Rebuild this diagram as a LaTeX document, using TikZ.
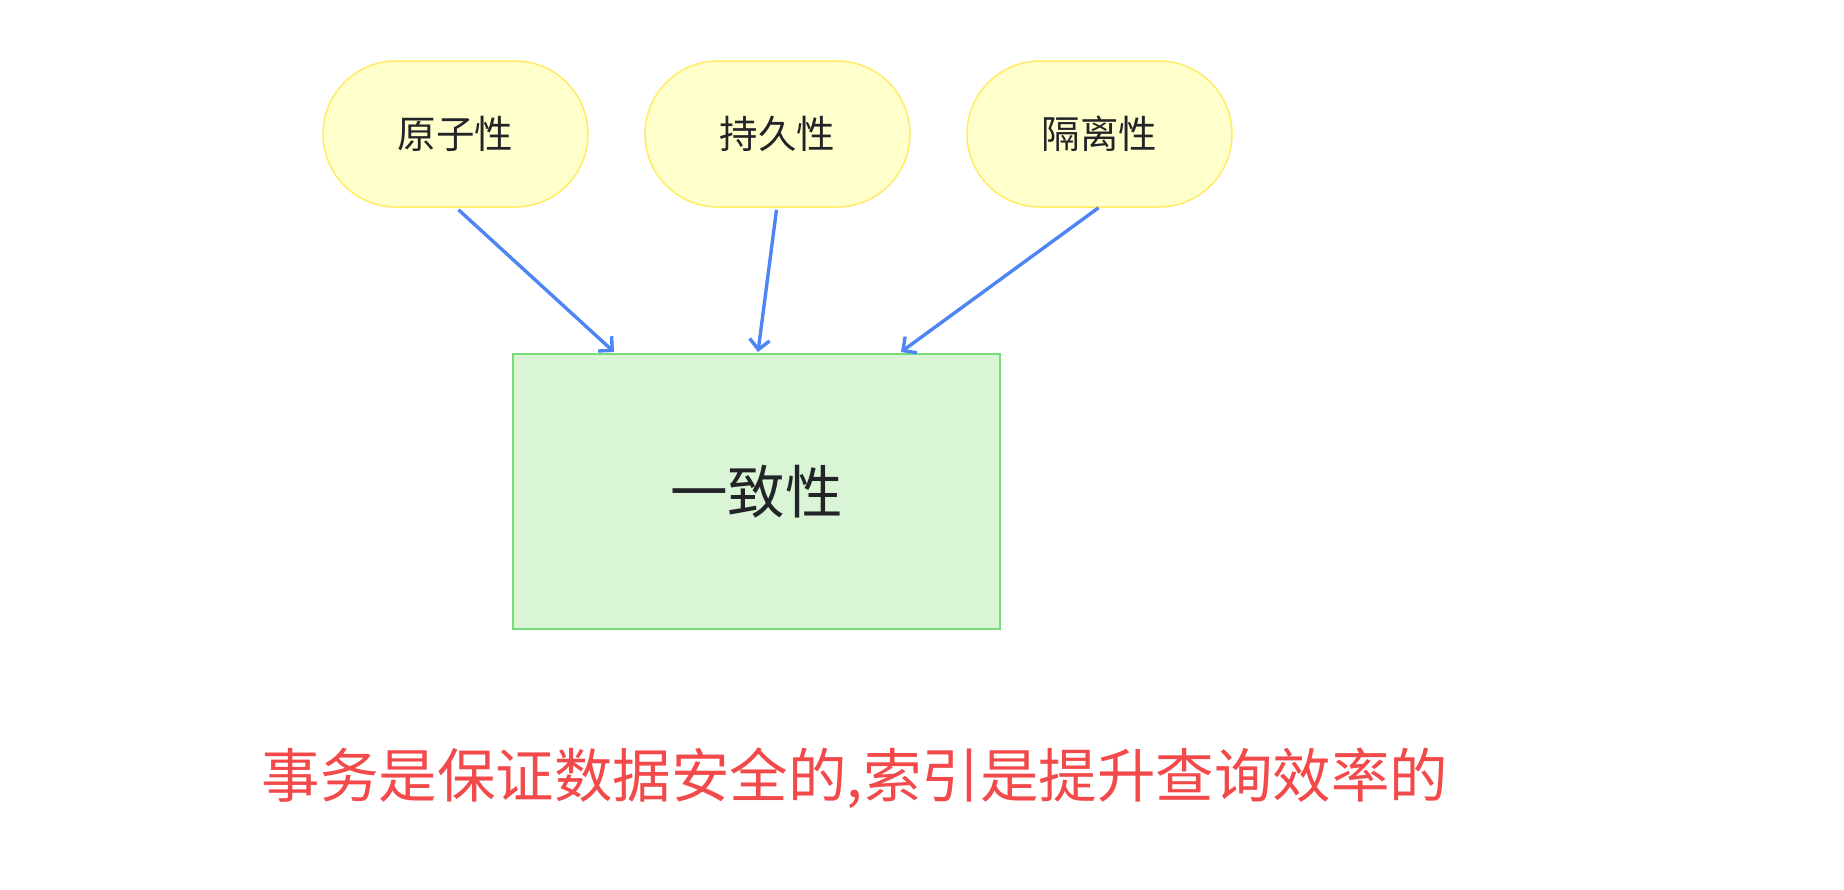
\documentclass[tikz,border=0pt]{standalone}
\usepackage{fontspec}
\setmainfont{Noto Sans CJK SC}
\usetikzlibrary{arrows.meta}
\definecolor{pillfill}{RGB}{255,255,204}
\definecolor{pilldraw}{RGB}{255,236,100}
\definecolor{boxfill}{RGB}{217,245,214}
\definecolor{boxdraw}{RGB}{120,220,120}
\definecolor{arrowc}{RGB}{77,133,245}
\definecolor{textc}{RGB}{34,36,40}
\definecolor{redc}{RGB}{242,74,74}
\tikzset{
  pill/.style={draw=pilldraw, fill=pillfill, line width=1.5pt, rounded corners=73pt,
    minimum width=265pt, minimum height=146pt, inner sep=0pt, text=textc,
    font=\fontsize{38.5pt}{44pt}\selectfont},
  mainbox/.style={draw=boxdraw, fill=boxfill, line width=2pt,
    minimum width=487pt, minimum height=275pt, inner sep=0pt, text=textc,
    font=\fontsize{57.5pt}{64pt}\selectfont},
  link/.style={draw=arrowc, line width=3.4pt, -{Straight Barb[length=10pt,width=20pt,line width=3.4pt]}},
  note/.style={text=redc, inner sep=0pt, font=\fontsize{58.5pt}{66pt}\selectfont}
}
\begin{document}
\begin{tikzpicture}[x=1pt,y=-1pt]
\useasboundingbox (0,0) rectangle (1844,889);
\node[pill] (p1) at (455.5,134) {原子性};
\node[pill] (p2) at (777.5,134) {持久性};
\node[pill] (p3) at (1099.5,134) {隔离性};
\node[mainbox] (c) at (756.5,491.5) {\raisebox{-7pt}{一致性}};
\draw[link] ([xshift=3pt,yshift=-2pt]p1.south) -- ([xshift=102pt,yshift=1pt]c.north west);
\draw[link] ([xshift=-1pt,yshift=-2pt]p2.south) -- ([xshift=246pt,yshift=1pt]c.north west);
\draw[link] ([xshift=-1pt]p3.south) -- ([xshift=389pt,yshift=1pt]c.north west);
\node[note] (t) at (855,778) {事务是保证数据安全的,索引是提升查询效率的};
\end{tikzpicture}
\end{document}
